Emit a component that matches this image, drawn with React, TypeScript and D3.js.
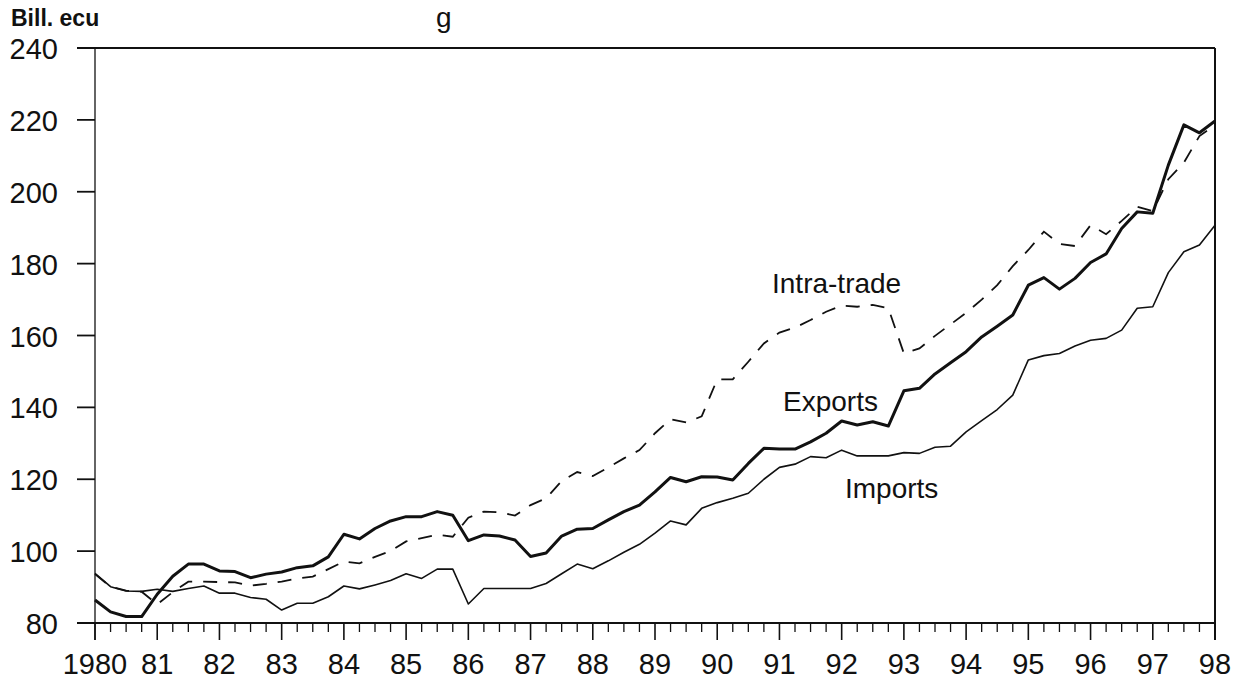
import React from "react";
import * as d3 from "d3";

const quarters: number[] = d3.range(0, 73).map((i) => 1980 + i / 4);

const exportsValues: number[] = [
  86.4, 83.1, 81.8, 81.8, 88.0, 93.0, 96.4, 96.4, 94.5, 94.3, 92.6, 93.6, 94.2, 95.4, 95.9, 98.4,
  104.7, 103.4, 106.3, 108.4, 109.6, 109.6, 111.0, 110.0, 102.9, 104.5, 104.2, 103.1, 98.5, 99.5,
  104.2, 106.1, 106.3, 108.7, 111.0, 112.8, 116.5, 120.5, 119.3, 120.7, 120.6, 119.8, 124.4, 128.6,
  128.4, 128.4, 130.4, 132.8, 136.2, 135.1, 136.0, 134.8, 144.6, 145.3, 149.3, 152.4, 155.5, 159.6,
  162.6, 165.7, 174.0, 176.1, 172.9, 175.9, 180.3, 182.7, 189.8, 194.4, 194.0, 207.4, 218.6, 216.4,
  219.7,
];

const importsValues: number[] = [
  93.8, 90.1, 88.9, 88.8, 89.4, 88.8, 89.6, 90.3, 88.3, 88.3, 87.1, 86.6, 83.6, 85.5, 85.5, 87.3,
  90.3, 89.5, 90.6, 91.8, 93.7, 92.4, 95.0, 95.0, 85.3, 89.6, 89.6, 89.6, 89.6, 91.0, 93.7, 96.4,
  95.1, 97.3, 99.7, 101.9, 105.0, 108.4, 107.3, 111.9, 113.5, 114.7, 116.1, 120.0, 123.3, 124.2,
  126.3, 126.0, 128.1, 126.5, 126.5, 126.5, 127.4, 127.2, 128.9, 129.2, 133.2, 136.3, 139.4, 143.4,
  153.2, 154.4, 155.0, 157.1, 158.7, 159.2, 161.5, 167.6, 168.0, 177.5, 183.3, 185.2, 190.7,
];

const intraValues: number[] = [
  93.6, 90.1, 89.0, 88.7, 85.2, 88.6, 91.5, 91.5, 91.4, 91.3, 90.4, 90.9, 91.5, 92.4, 92.9, 95.0,
  97.1, 96.6, 98.4, 100.0, 102.7, 103.6, 104.6, 104.0, 109.3, 111.0, 110.8, 109.9, 112.8, 114.7,
  119.5, 122.0, 120.9, 123.3, 125.8, 128.1, 132.8, 136.7, 135.8, 137.5, 147.8, 147.8, 152.7, 157.8,
  160.8, 162.2, 164.3, 166.6, 168.3, 168.0, 168.5, 167.6, 155.0, 156.4, 159.9, 163.1, 166.3, 170.0,
  174.0, 179.3, 183.8, 188.9, 185.5, 184.9, 190.7, 188.2, 191.9, 195.8, 194.6, 203.5, 208.1, 215.5,
  218.6,
];

const yTicks: number[] = [80, 100, 120, 140, 160, 180, 200, 220, 240];
const xYears: number[] = d3.range(1980, 1999);
const xLabels: string[] = ["1980", "81", "82", "83", "84", "85", "86", "87", "88", "89", "90", "91", "92", "93", "94", "95", "96", "97", "98"];

const W = 1239;
const H = 682;
const FONT = "'Liberation Sans', Arial, Helvetica, sans-serif";

export default function App() {
  const x = d3.scaleLinear().domain([1980, 1998]).range([95, 1215]);
  const y = d3.scaleLinear().domain([80, 240]).range([623, 48]);

  const mk = (vals: number[]) =>
    d3
      .line<number>()
      .x((_, i) => x(quarters[i]))
      .y((v) => y(v))(vals) || "";

  const minor = quarters.filter((_, i) => i % 4 !== 0);

  return (
    <svg
      width={W}
      height={H}
      style={{ position: "absolute", left: 0, top: 0, background: "#fff" }}
      fontFamily={FONT}
    >
      <rect x={0} y={0} width={W} height={H} fill="#fff" />
      {/* title fragment at the top edge */}
      <text x={436} y={27} fontSize={28} fill="#111">g</text>

      <text x={11} y={26} fontSize={23} fontWeight="bold" fill="#111">Bill. ecu</text>

      {/* frame */}
      <line x1={77} x2={1215} y1={y(240)} y2={y(240)} stroke="#111" strokeWidth={2} />
      <line x1={77} x2={1215} y1={y(80)} y2={y(80)} stroke="#111" strokeWidth={2.2} />
      <line x1={x(1980)} x2={x(1980)} y1={y(240)} y2={640} stroke="#111" strokeWidth={1.3} />
      <line x1={x(1998)} x2={x(1998)} y1={y(240)} y2={640} stroke="#111" strokeWidth={2} />

      {yTicks.map((t) => (
        <g key={"y" + t}>
          <line x1={77} x2={x(1980)} y1={y(t)} y2={y(t)} stroke="#111" strokeWidth={1.8} />
          <text x={58} y={y(t) + 11} fontSize={29} textAnchor="end" fill="#111">
            {t}
          </text>
        </g>
      ))}

      {xYears.map((yr, i) => (
        <g key={"x" + yr}>
          <line x1={x(yr)} x2={x(yr)} y1={y(80)} y2={640} stroke="#111" strokeWidth={1.6} />
          <text x={x(yr)} y={674} fontSize={29} textAnchor="middle" fill="#111">
            {xLabels[i]}
          </text>
        </g>
      ))}
      {minor.map((q) => (
        <line key={"m" + q} x1={x(q)} x2={x(q)} y1={y(80)} y2={632} stroke="#111" strokeWidth={1.3} />
      ))}

      <path d={mk(importsValues)} fill="none" stroke="#111" strokeWidth={1.6} strokeLinejoin="round" />
      <path d={mk(intraValues)} fill="none" stroke="#111" strokeWidth={1.8} strokeDasharray="14,11" />
      <path d={mk(exportsValues)} fill="none" stroke="#111" strokeWidth={3} strokeLinejoin="round" />

      <text x={772} y={293} fontSize={28} fill="#111">Intra-trade</text>
      <text x={783} y={411} fontSize={28} fill="#111">Exports</text>
      <text x={845} y={498} fontSize={28} fill="#111">Imports</text>
    </svg>
  );
}
